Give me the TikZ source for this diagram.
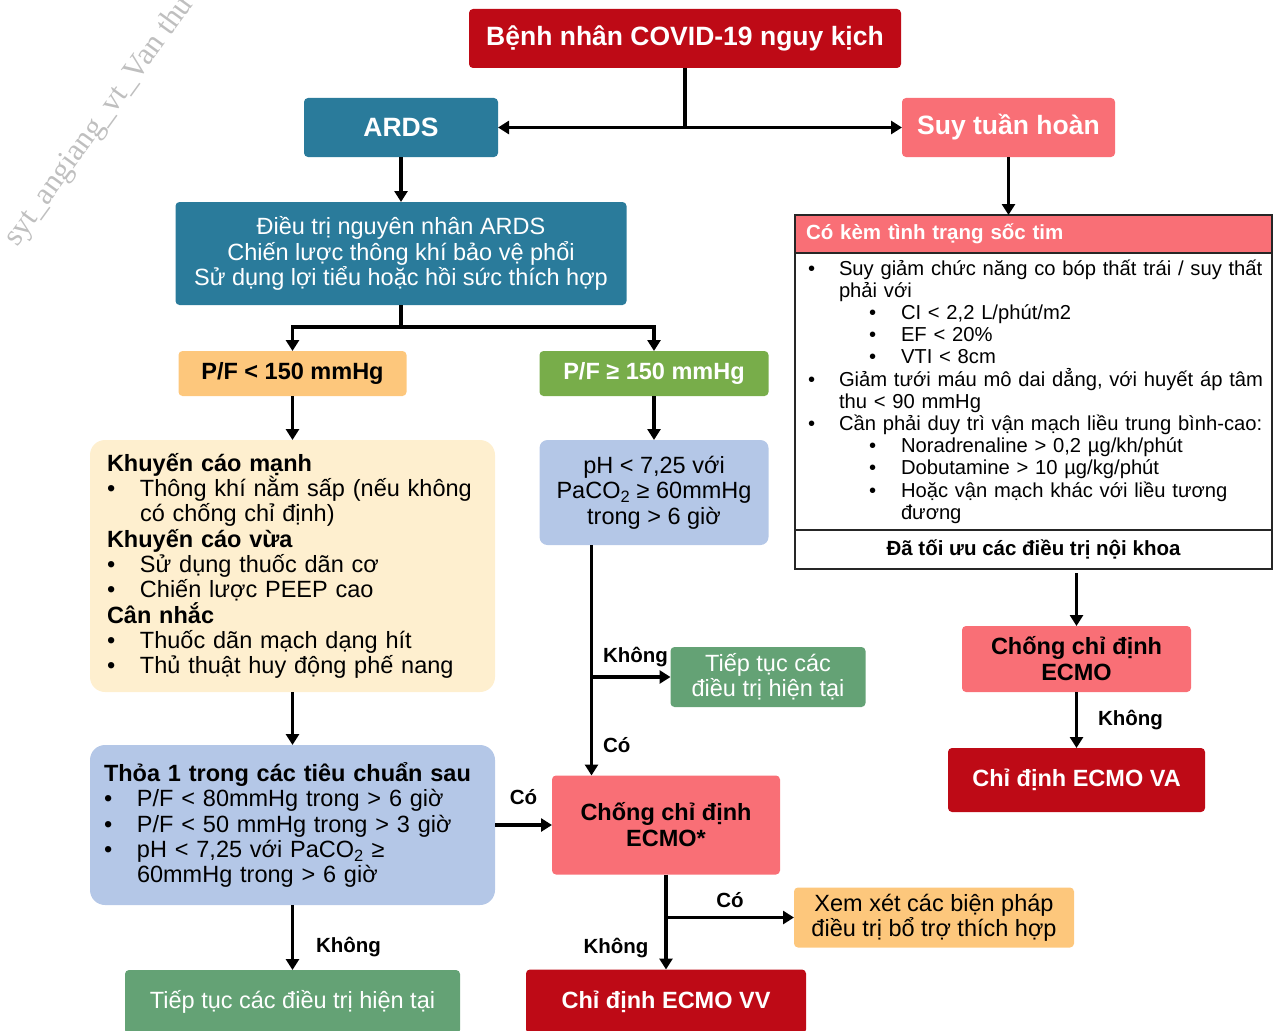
\documentclass[tikz,border=0pt]{standalone}
\usepackage{fontspec}
\setmainfont{Liberation Sans}
\newfontfamily\markfont{Liberation Serif}
\usetikzlibrary{arrows.meta}
\usetikzlibrary{positioning}

\definecolor{ecmored}{RGB}{190,10,22}
\definecolor{ardsteal}{RGB}{42,123,155}
\definecolor{shockpink}{RGB}{249,111,118}
\definecolor{pforange}{RGB}{253,199,124}
\definecolor{pfgreen}{RGB}{120,173,74}
\definecolor{contgreen}{RGB}{100,162,117}
\definecolor{critblue}{RGB}{180,199,231}
\definecolor{recomcream}{RGB}{254,239,207}

\newcommand{\fTitle}{\bfseries\fontsize{26.5}{30}\selectfont}
\newcommand{\fBold}{\bfseries\fontsize{23.5}{26}\selectfont}
\newcommand{\fBody}{\fontsize{23.5}{25.3}\selectfont}
\newcommand{\fSmall}{\fontsize{20.2}{22.2}\selectfont}
\newcommand{\fSmallBold}{\bfseries\fontsize{20.5}{22.2}\selectfont}
\newcommand{\itembul}[2]{\mbox{\makebox[#1][l]{•}#2}}
\newcommand{\subitembul}[1]{\mbox{\hspace*{61pt}\makebox[32pt][l]{•}#1}}
\newcommand{\contline}[2]{\mbox{\hspace*{#1}#2}}

\tikzstyle{box} = [rectangle, rounded corners=4pt, inner sep=0pt, outer sep=0pt, align=center]
\tikzstyle{titlebox} = [box, fill=ecmored, text=white, font=\fTitle]
\tikzstyle{ecmobox} = [box, fill=ecmored, text=white, font=\fBold]
\tikzstyle{ardsbox} = [box, fill=ardsteal, text=white]
\tikzstyle{pinkbox} = [box, fill=shockpink, font=\fBold]
\tikzstyle{greenbox} = [box, fill=contgreen, text=white, font=\fBody]
\tikzstyle{bluebox} = [box, fill=critblue, font=\fBody]
\tikzstyle{shockpart} = [rectangle, draw=black!85, line width=1.2pt, inner sep=0pt,
outer sep=0pt, minimum width=477pt]
\tikzstyle{arrow} = [line width=3.2pt, -{Triangle[length=11pt,width=13pt]}]
\tikzstyle{link} = [line width=3.2pt]
\tikzstyle{answer} = [inner sep=0pt, font=\fSmallBold]

\begin{document}
\begin{tikzpicture}[x=1pt,y=-1pt]
    \useasboundingbox (0,0) rectangle (1273,1030);
    \node (mark) [rotate=54, anchor=base west, inner sep=0pt, text=black!25,
        font=\markfont\fontsize{31}{31}\selectfont] at (17,248) {syt\_angiang\_vt\_Van thư};

    \node (top) [titlebox, minimum width=432pt, minimum height=59pt] at (685,38.5) {Bệnh nhân COVID-19 nguy kịch};
    \node (ards) [ardsbox, font=\fTitle, minimum width=194pt, minimum height=59pt, below=30pt of top, xshift=-284pt] {ARDS};
    \node (suy) [pinkbox, text=white, font=\fTitle, minimum width=213pt, minimum height=59pt, below=30pt of top, xshift=323.5pt] {Suy tuần hoàn};
    \node (treat) [ardsbox, font=\fBody, minimum width=451pt, minimum height=103pt, below=45pt of ards]
        {Điều trị nguyên nhân ARDS\\Chiến lược thông khí bảo vệ phổi\\Sử dụng lợi tiểu hoặc hồi sức thích hợp};
    \node (pflow) [box, fill=pforange, font=\fBold, minimum width=228pt, minimum height=45pt, below=46pt of treat, xshift=-108.5pt] {P/F < 150 mmHg};
    \node (pfhigh) [box, fill=pfgreen, text=white, font=\fBold, minimum width=229pt, minimum height=45pt, below=46pt of treat, xshift=253pt] {P/F ≥ 150 mmHg};
    \node (recom) [box, rounded corners=15pt, fill=recomcream, font=\fBody, align=left, text width=371pt, inner xsep=17pt, minimum height=252pt, below=44pt of pflow]
        {{\bfseries Khuyến cáo mạnh}\\
        \itembul{33pt}{Thông khí nằm sấp (nếu không}\\
        \contline{33pt}{có chống chỉ định)}\\
        {\bfseries Khuyến cáo vừa}\\
        \itembul{33pt}{Sử dụng thuốc dãn cơ}\\
        \itembul{33pt}{Chiến lược PEEP cao}\\
        {\bfseries Cân nhắc}\\
        \itembul{33pt}{Thuốc dãn mạch dạng hít}\\
        \itembul{33pt}{Thủ thuật huy động phế nang}};
    \node (phbox) [bluebox, rounded corners=8pt, minimum width=229pt, minimum height=105pt, below=44pt of pfhigh]
        {pH < 7,25 với\\PaCO\textsubscript{2} ≥ 60mmHg\\trong > 6 giờ};
    \node (cont1) [greenbox, minimum width=195pt, minimum height=60pt, below=102pt of phbox, xshift=114pt] {Tiếp tục các\\điều trị hiện tại};
    \node (crit) [bluebox, rounded corners=15pt, align=left, text width=377pt, inner xsep=14pt, minimum height=160pt, below=53pt of recom]
        {{\bfseries Thỏa 1 trong các tiêu chuẩn sau}\\
        \itembul{33pt}{P/F < 80mmHg trong > 6 giờ}\\
        \itembul{33pt}{P/F < 50 mmHg trong > 3 giờ}\\
        \itembul{33pt}{pH < 7,25 với PaCO\textsubscript{2} ≥}\\
        \contline{33pt}{60mmHg trong > 6 giờ}};
    \node (cont2) [greenbox, minimum width=335pt, minimum height=64pt, below=65pt of crit] {Tiếp tục các điều trị hiện tại};
    \node (contra) [pinkbox, minimum width=228pt, minimum height=99pt, right=57pt of crit] {Chống chỉ định\\ECMO*};
    \node (vv) [ecmobox, minimum width=280pt, minimum height=64pt, below=95pt of contra] {Chỉ định ECMO VV};
    \node (support) [box, fill=pforange, font=\fBody, minimum width=280pt, minimum height=60pt, below right=13pt and 14pt of contra.south east]
        {Xem xét các biện pháp\\điều trị bổ trợ thích hợp};

    \node (shockhead) [shockpart, fill=shockpink, text=white, font=\fSmallBold, minimum height=38pt, align=left, text width=455pt, inner xsep=11pt, below=58pt of suy, xshift=25pt]
        {Có kèm tình trạng sốc tim};
    \node (shockbody) [shockpart, fill=white, font=\fSmall, minimum height=277pt, align=left, text width=451pt, inner xsep=13pt, below=0pt of shockhead]
        {\itembul{31pt}{Suy giảm chức năng co bóp thất trái / suy thất}\\
        \contline{31pt}{phải với}\\
        \subitembul{CI < 2,2 L/phút/m2}\\
        \subitembul{EF < 20\%}\\
        \subitembul{VTI < 8cm}\\
        \itembul{31pt}{Giảm tưới máu mô dai dẳng, với huyết áp tâm}\\
        \contline{31pt}{thu < 90 mmHg}\\
        \itembul{31pt}{Cần phải duy trì vận mạch liều trung bình-cao:}\\
        \subitembul{Noradrenaline > 0,2 µg/kh/phút}\\
        \subitembul{Dobutamine > 10 µg/kg/phút}\\
        \subitembul{Hoặc vận mạch khác với liều tương}\\
        \contline{93pt}{đương}};
    \node (optimal) [shockpart, font=\fSmallBold, minimum height=39pt, below=0pt of shockbody] {Đã tối ưu các điều trị nội khoa};
    \node (contraA) [pinkbox, minimum width=229pt, minimum height=66pt, below=57pt of optimal, xshift=43pt] {Chống chỉ định\\ECMO};
    \node (va) [ecmobox, minimum width=257pt, minimum height=64pt, below=56pt of contraA] {Chỉ định ECMO VA};

    \coordinate (split1) at (top.south |- ards.east);
    \draw[link] (top) -- (split1);
    \draw[arrow] (split1) -- (ards);
    \draw[arrow] (split1) -- (suy);
    \draw[arrow] (ards) -- (treat);
    \coordinate[below=22pt of treat] (split2);
    \draw[link] (treat) -- (split2);
    \draw[arrow] (split2) -| (pflow);
    \draw[arrow] (split2) -| (pfhigh);
    \draw[arrow] (pflow) -- (recom);
    \draw[arrow] (pfhigh) -- (phbox);
    \draw[arrow] (recom) -- (crit);
    \draw[arrow] (crit) -- (cont2) node[answer, pos=0.65, right=22pt] {Không};
    \draw[arrow] (crit) -- (contra) node[answer, midway, above=19pt] {Có};

    \coordinate (phout) at ([xshift=-62.5pt]phbox.south);
    \draw[arrow] (phout) -- (phout |- contra.north) node[answer, pos=0.87, right=10pt] {Có};
    \draw[arrow] (phout |- cont1.west) -- (cont1) node[answer, pos=0, above right=9pt and 10pt] {Không};
    \draw[arrow] (contra) -- (vv) node[answer, pos=0.77, left=16pt] {Không};
    \coordinate (branch) at (contra.south |- support.west);
    \draw[arrow] (branch) -- (support) node[answer, midway, above=8pt] {Có};

    \draw[arrow] (suy) -- (suy |- shockhead.north);
    \draw[arrow, shorten <=4pt] (contraA.north |- optimal.south) -- (contraA);
    \draw[arrow] (contraA) -- (va) node[answer, midway, right=20pt] {Không};
\end{tikzpicture}
\end{document}
